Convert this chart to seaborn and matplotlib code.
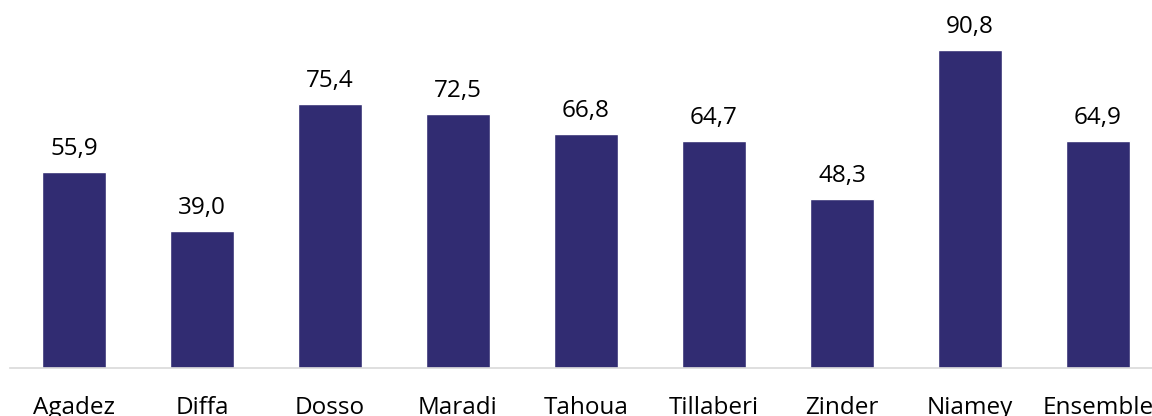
import matplotlib
matplotlib.use("Agg")
import matplotlib.pyplot as plt
import seaborn as sns
import pandas as pd

regions = ["Agadez", "Diffa", "Dosso", "Maradi", "Tahoua", "Tillaberi", "Zinder", "Niamey", "Ensemble"]
values = [55.9, 39.0, 75.4, 72.5, 66.8, 64.7, 48.3, 90.8, 64.9]

sns.set_style("white")
plt.rcParams['font.family'] = ['Open Sans', 'DejaVu Sans']

df = pd.DataFrame({"region": regions, "value": values})

fig = plt.figure(figsize=(11.52, 4.16), dpi=100)
ax = fig.add_axes([10 / 1152, 48 / 416, 1.0, 368 / 416])

sns.barplot(data=df, x="region", y="value", color="#312c72", width=0.5,
            saturation=1, ax=ax)

# value labels with comma decimals
ax.bar_label(ax.containers[0], labels=[f"{v:.1f}".replace(".", ",") for v in values],
             padding=8, fontsize=17.5, color="#000000")

ax.set_xlim(-0.5, 8.5)
ax.set_ylim(0, 105.1)
ax.set_xlabel("")
ax.set_ylabel("")
ax.set_yticks([])
ax.tick_params(axis="x", length=0, pad=20, labelsize=17.5, colors="#000000")

for side in ["top", "left", "right"]:
    ax.spines[side].set_visible(False)
ax.spines["bottom"].set_color("#d9d9d9")
ax.spines["bottom"].set_linewidth(1.2)

fig.savefig("out.png", dpi=100)
